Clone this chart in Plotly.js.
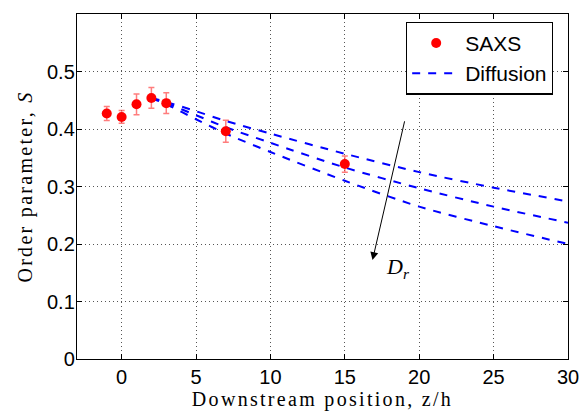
<!DOCTYPE html>
<html>
<head>
<meta charset="utf-8">
<script src="https://cdn.plot.ly/plotly-3.0.1.min.js"></script>
<style>
html,body{margin:0;padding:0;background:#fff;}
#chart{width:581px;height:413px;}
.xtitle,.ytitle{letter-spacing:2.3px;}
</style>
</head>
<body>
<div id="chart"></div>
<script>
// SAXS measurements
const saxsX = [-1, 0, 1, 2, 3, 7, 15];
const saxsS = [0.427, 0.421, 0.443, 0.454, 0.445, 0.396, 0.339];
const saxsErr = [0.012, 0.011, 0.018, 0.018, 0.018, 0.019, 0.014];

// Diffusion model curves (three D_r values)
const diffX = [2, 3, 5, 7, 10, 15, 20, 25, 30];
const diffTop = [0.454, 0.447, 0.431, 0.414, 0.392, 0.357, 0.325, 0.298, 0.274];
const diffMid = [0.454, 0.445, 0.424, 0.403, 0.376, 0.333, 0.297, 0.265, 0.237];
const diffBot = [0.454, 0.443, 0.417, 0.392, 0.360, 0.310, 0.265, 0.231, 0.200];

const xTicks = [0, 5, 10, 15, 20, 25, 30];
const yTicks = [0, 0.1, 0.2, 0.3, 0.4, 0.5];
const yTickText = ['0', '0.1', '0.2', '0.3', '0.4', '0.5'];

const sans = 'Liberation Sans, Arial, sans-serif';
const serif = 'Liberation Serif, DejaVu Serif, serif';

const lineStyle = {color: '#0000ff', width: 2, dash: '8px,8px', shape: 'spline', smoothing: 0.8};
const traces = [
  {x: diffX, y: diffTop, mode: 'lines', name: 'Diffusion', line: lineStyle, showlegend: true, legendrank: 2},
  {x: diffX, y: diffMid, mode: 'lines', name: 'Diffusion', line: lineStyle, showlegend: false},
  {x: diffX, y: diffBot, mode: 'lines', name: 'Diffusion', line: lineStyle, showlegend: false},
  {x: saxsX, y: saxsS, mode: 'markers', name: 'SAXS', legendrank: 1,
   marker: {color: '#ff0000', size: 10},
   error_y: {type: 'data', array: saxsErr, visible: true, color: 'rgba(255,70,70,0.7)', thickness: 1.5, width: 3}}
];

const axisCommon = {
  showline: true, linecolor: '#000', linewidth: 1.2, mirror: 'ticks',
  ticks: 'inside', ticklen: 5, tickcolor: '#000', tickwidth: 1,
  showgrid: true, gridcolor: '#555', griddash: '1px,3px', gridwidth: 1,
  zeroline: false, tickfont: {family: sans, size: 20, color: '#000'}
};

const layout = {
  width: 581, height: 413,
  margin: {l: 77, r: 13, t: 14, b: 54},
  paper_bgcolor: '#fff', plot_bgcolor: '#fff',
  showlegend: true,
  legend: {x: 0.67, y: 0.978, xanchor: 'left', yanchor: 'top',
    bgcolor: '#fff', bordercolor: '#000', borderwidth: 1.2,
    font: {family: sans, size: 21, color: '#000'}, itemwidth: 48, tracegroupgap: 0},
  xaxis: Object.assign({}, axisCommon, {
    range: [-3, 30], tickmode: 'array', tickvals: xTicks,
    title: {text: 'Downstream position, z/h', font: {family: serif, size: 20, color: '#000'}, standoff: 2}
  }),
  yaxis: Object.assign({}, axisCommon, {
    range: [0, 0.6], tickmode: 'array', tickvals: yTicks, ticktext: yTickText,
    ticklabelstandoff: -3,
    title: {text: 'Order parameter, <i>S</i>', font: {family: serif, size: 20, color: '#000'}, standoff: 9}
  }),
  annotations: [
    {x: 16.86, y: 0.172, ax: 19.04, ay: 0.416, xref: 'x', yref: 'y', axref: 'x', ayref: 'y',
     showarrow: true, arrowhead: 2, arrowsize: 1.6, arrowwidth: 1, arrowcolor: '#000', text: ''},
    {x: 18.6, y: 0.158, xref: 'x', yref: 'y', showarrow: false,
     text: '<i>D</i><sub><i>r</i></sub>', font: {family: serif, size: 22, color: '#000'}}
  ]
};

Plotly.newPlot('chart', traces, layout, {displayModeBar: false, staticPlot: true});
</script>
</body>
</html>
